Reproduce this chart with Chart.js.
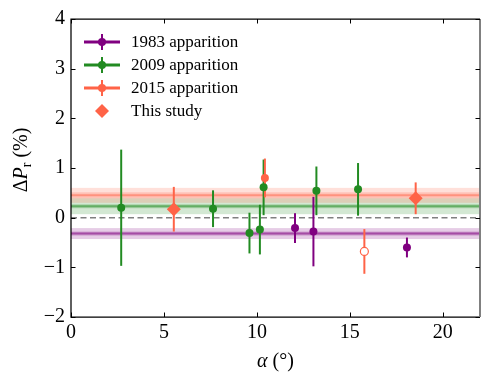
<!DOCTYPE html>
<html>
<head>
<meta charset="utf-8">
<script src="https://cdn.jsdelivr.net/npm/chart.js@4/dist/chart.umd.min.js"></script>
<style>
html,body{margin:0;padding:0;background:#fff;}
#wrap{width:490px;height:380px;}
</style>
</head>
<body>
<div id="wrap"><canvas id="c" width="490" height="380"></canvas></div>
<script>
// ---- data ----
const xTicks = [0, 5, 10, 15, 20];
const yTicks = [-2, -1, 0, 1, 2, 3, 4];

const alpha1983 = [12.05, 13.04, 18.07];
const dp1983    = [-0.21, -0.28, -0.60];
const err1983   = [0.30, 0.70, 0.20];

const alpha2009 = [2.7, 7.64, 9.6, 10.16, 10.36, 13.2, 15.44];
const dp2009    = [0.20, 0.18, -0.31, -0.24, 0.61, 0.54, 0.57];
const err2009   = [1.17, 0.37, 0.41, 0.50, 0.56, 0.49, 0.53];

const alpha2015 = [10.43, 15.78];
const dp2015    = [0.80, -0.68];
const err2015   = [0.39, 0.45];
const open2015  = [false, true];

const alphaStudy = [5.53, 18.54];
const dpStudy    = [0.17, 0.39];
const errStudy   = [0.45, 0.32];

const seriesLabels = ['1983 apparition', '2009 apparition', '2015 apparition', 'This study'];
// mean levels with inner / outer half-widths (1983, 2009, 2015)
const bandMean  = [-0.32, 0.23, 0.45];
const bandInner = [0.04, 0.04, 0.06];
const bandOuter = [0.11, 0.16, 0.15];

// ---- styles ----
const PURPLE = '#800080', GREEN = '#228b22', TOMATO = '#ff6347';
const bandRGB = ['128,0,128', '34,139,34', '255,99,71'];
const SERIF = '"Liberation Serif", "DejaVu Serif", serif';

function pts(xs, ys, es) { return xs.map((x, i) => ({x: x, y: ys[i], e: es[i]})); }

const decor = {
  id: 'decor',
  beforeDatasetsDraw(chart) {
    const {ctx, chartArea: a, scales: {x, y}} = chart;
    ctx.save();
    ctx.beginPath(); ctx.rect(a.left, a.top, a.right - a.left, a.bottom - a.top); ctx.clip();
    // bands
    for (let i = 0; i < bandMean.length; i++) {
      const m = bandMean[i];
      const yo1 = y.getPixelForValue(m + bandOuter[i]), yo2 = y.getPixelForValue(m - bandOuter[i]);
      ctx.fillStyle = 'rgba(' + bandRGB[i] + ',0.2)';
      ctx.fillRect(a.left, yo1, a.right - a.left, yo2 - yo1);
      const yi1 = y.getPixelForValue(m + bandInner[i]), yi2 = y.getPixelForValue(m - bandInner[i]);
      ctx.fillStyle = 'rgba(' + bandRGB[i] + ',0.25)';
      ctx.fillRect(a.left, yi1, a.right - a.left, yi2 - yi1);
      ctx.strokeStyle = 'rgba(' + bandRGB[i] + ',0.5)';
      ctx.lineWidth = 2;
      ctx.beginPath(); ctx.moveTo(a.left, y.getPixelForValue(m)); ctx.lineTo(a.right, y.getPixelForValue(m)); ctx.stroke();
    }
    // zero dashed
    ctx.strokeStyle = '#808080'; ctx.lineWidth = 1.5; ctx.setLineDash([6, 3.5]);
    const y0 = y.getPixelForValue(0);
    ctx.beginPath(); ctx.moveTo(a.left, y0); ctx.lineTo(a.right, y0); ctx.stroke();
    ctx.setLineDash([]);
    // error bars
    chart.data.datasets.forEach(ds => {
      ctx.strokeStyle = ds.errColor; ctx.lineWidth = 2;
      ds.data.forEach(p => {
        const px = x.getPixelForValue(p.x);
        ctx.beginPath();
        ctx.moveTo(px, y.getPixelForValue(p.y - p.e));
        ctx.lineTo(px, y.getPixelForValue(p.y + p.e));
        ctx.stroke();
      });
    });
    ctx.restore();
  },
  afterDatasetsDraw(chart) {
    const {ctx, chartArea: a, scales: {x, y}} = chart;
    ctx.save();
    // frame
    ctx.lineWidth = 1.25; ctx.strokeStyle = '#000';
    ctx.beginPath();
    ctx.moveTo(a.right, a.top); ctx.lineTo(a.left, a.top); ctx.lineTo(a.left, a.bottom); ctx.lineTo(a.right, a.bottom);
    ctx.stroke();
    ctx.strokeStyle = '#808080'; ctx.lineWidth = 2;
    ctx.beginPath(); ctx.moveTo(a.right, a.top); ctx.lineTo(a.right, a.bottom); ctx.stroke();
    // inward ticks
    ctx.strokeStyle = '#000'; ctx.lineWidth = 1;
    const L = 4.5;
    x.ticks.forEach(t => {
      const px = Math.round(x.getPixelForValue(t.value)) + 0.5;
      ctx.beginPath(); ctx.moveTo(px, a.bottom); ctx.lineTo(px, a.bottom - L); ctx.stroke();
      ctx.beginPath(); ctx.moveTo(px, a.top); ctx.lineTo(px, a.top + L); ctx.stroke();
    });
    y.ticks.forEach(t => {
      const py = Math.round(y.getPixelForValue(t.value)) + 0.5;
      ctx.beginPath(); ctx.moveTo(a.left, py); ctx.lineTo(a.left + L, py); ctx.stroke();
      ctx.beginPath(); ctx.moveTo(a.right, py); ctx.lineTo(a.right - L, py); ctx.stroke();
    });
    // legend
    const lx0 = a.left + 13, lx1 = a.left + 49, mx = (lx0 + lx1) / 2, tx = a.left + 60;
    const rowY = [a.top + 23, a.top + 46, a.top + 69, a.top + 92];
    const cols = [PURPLE, GREEN, TOMATO];
    ctx.textBaseline = 'middle'; ctx.textAlign = 'left';
    ctx.font = '17px ' + SERIF; ctx.fillStyle = '#000';
    for (let i = 0; i < 4; i++) {
      const ly = rowY[i];
      if (i < 3) {
        ctx.strokeStyle = cols[i]; ctx.lineWidth = 3;
        ctx.beginPath(); ctx.moveTo(lx0, ly); ctx.lineTo(lx1, ly); ctx.stroke();
        ctx.lineWidth = 2;
        ctx.beginPath(); ctx.moveTo(mx, ly - 8); ctx.lineTo(mx, ly + 8); ctx.stroke();
        ctx.fillStyle = cols[i];
        ctx.beginPath(); ctx.arc(mx, ly, 4, 0, Math.PI * 2); ctx.fill();
      } else {
        ctx.fillStyle = TOMATO;
        ctx.beginPath(); ctx.moveTo(mx - 7, ly); ctx.lineTo(mx, ly - 7); ctx.lineTo(mx + 7, ly); ctx.lineTo(mx, ly + 7); ctx.closePath(); ctx.fill();
      }
      ctx.fillStyle = '#000';
      ctx.fillText(seriesLabels[i], tx, ly + 1);
    }
    // x title
    const xc = (a.left + a.right) / 2;
    ctx.textBaseline = 'alphabetic';
    ctx.font = 'italic 20px ' + SERIF;
    const w1 = ctx.measureText('α').width;
    ctx.font = '20px ' + SERIF;
    const w2 = ctx.measureText(' (°)').width;
    let sx = xc - (w1 + w2) / 2;
    ctx.font = 'italic 20px ' + SERIF; ctx.fillText('α', sx, 367);
    ctx.font = '20px ' + SERIF; ctx.fillText(' (°)', sx + w1, 367);
    // y title (rotated)
    ctx.save();
    ctx.translate(27, 160);
    ctx.rotate(-Math.PI / 2);
    const runs = [['Δ', '20px ', 0], ['P', 'italic 20px ', 0], ['r', '14px ', 4], [' (%)', '20px ', 0]];
    let tw = 0;
    runs.forEach(r => { ctx.font = r[1] + SERIF; r.w = ctx.measureText(r[0]).width; tw += r.w; });
    let cx = -tw / 2;
    runs.forEach(r => { ctx.font = r[1] + SERIF; ctx.fillText(r[0], cx, r[2]); cx += r.w; });
    ctx.restore();
    ctx.restore();
  }
};

const tickFmt = v => (v < 0 ? '\u2212' + Math.abs(v) : String(v));

new Chart(document.getElementById('c'), {
  type: 'scatter',
  data: {
    datasets: [
      {label: seriesLabels[0], data: pts(alpha1983, dp1983, err1983), errColor: PURPLE,
       backgroundColor: PURPLE, borderColor: PURPLE, pointRadius: 4, pointBorderWidth: 0},
      {label: seriesLabels[1], data: pts(alpha2009, dp2009, err2009), errColor: GREEN,
       backgroundColor: GREEN, borderColor: GREEN, pointRadius: 4, pointBorderWidth: 0},
      {label: seriesLabels[2], data: pts(alpha2015, dp2015, err2015), errColor: TOMATO,
       backgroundColor: open2015.map(o => o ? '#ffffff' : TOMATO), borderColor: TOMATO,
       pointRadius: 4, pointBorderWidth: open2015.map(o => o ? 1.2 : 0)},
      {label: seriesLabels[3], data: pts(alphaStudy, dpStudy, errStudy), errColor: TOMATO,
       backgroundColor: TOMATO, borderColor: TOMATO, pointStyle: 'rectRot', pointRadius: 7, pointBorderWidth: 0}
    ]
  },
  options: {
    responsive: false, animation: false,
    layout: {padding: {top: 19, right: 10, left: 0, bottom: 0}},
    scales: {
      x: {
        type: 'linear', min: 0, max: 22,
        afterBuildTicks: s => { s.ticks = xTicks.map(v => ({value: v})); },
        afterFit: s => { s.height = 63; },
        grid: {display: false, drawTicks: false}, border: {display: false},
        ticks: {padding: 4, color: '#000', maxRotation: 0, font: {family: SERIF, size: 20}, callback: tickFmt}
      },
      y: {
        type: 'linear', min: -2, max: 4,
        afterBuildTicks: s => { s.ticks = yTicks.map(v => ({value: v})); },
        afterFit: s => { s.width = 71; },
        grid: {display: false, drawTicks: false}, border: {display: false},
        ticks: {padding: 6, color: '#000', font: {family: SERIF, size: 20}, callback: tickFmt}
      }
    },
    plugins: {legend: {display: false}, tooltip: {enabled: false}}
  },
  plugins: [decor]
});
</script>
</body>
</html>
